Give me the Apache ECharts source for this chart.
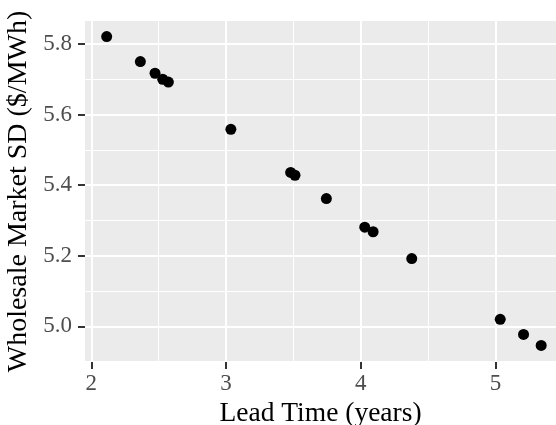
<!DOCTYPE html>
<html>
<head>
<meta charset="utf-8">
<script src="https://cdn.jsdelivr.net/npm/echarts@6/dist/echarts.min.js"></script>
<style>html,body{margin:0;padding:0;background:#fff}#c{width:556px;height:425px}</style>
</head>
<body>
<div id="c"></div>
<script>
var leadTime = [2.114, 2.364, 2.473, 2.530, 2.572, 3.036, 3.480, 3.512, 3.745, 4.030, 4.092, 4.379, 5.036, 5.209, 5.340];
var marketSD = [5.821, 5.750, 5.717, 5.700, 5.692, 5.558, 5.436, 5.428, 5.362, 5.281, 5.268, 5.192, 5.020, 4.977, 4.946];
var xTicks = [2, 3, 4, 5];
var xMinor = [2.5, 3.5, 4.5];
var yTicks = [5.0, 5.2, 5.4, 5.6, 5.8];
var yMinor = [4.9, 5.1, 5.3, 5.5, 5.7];

var font = '"Liberation Serif", "Times New Roman", serif';
var points = leadTime.map(function (x, i) { return [x, marketSD[i]]; });

function vLines(vals, w) {
  return vals.map(function (v) { return { xAxis: v, lineStyle: { color: '#fff', width: w, type: 'solid' } }; });
}
function hLines(vals, w) {
  return vals.map(function (v) { return { yAxis: v, lineStyle: { color: '#fff', width: w, type: 'solid' } }; });
}

var chart = echarts.init(document.getElementById('c'), null, { renderer: 'canvas' });
chart.setOption({
  animation: false,
  grid: { left: 85, right: 0, top: 21, bottom: 63, show: true, backgroundColor: '#EBEBEB', borderWidth: 0,
    containLabel: false, outerBoundsMode: 'none' },
  xAxis: {
    type: 'value', min: 1.953, max: 5.45,
    name: 'Lead Time (years)', nameLocation: 'middle', nameGap: 34,
    nameTextStyle: { fontFamily: font, fontSize: 27.5, color: '#000' },
    axisLine: { show: false },
    splitLine: { show: false },
    axisTick: { show: true, customValues: xTicks, length: 7, lineStyle: { color: '#333', width: 2 } },
    axisLabel: { customValues: xTicks, fontFamily: font, fontSize: 23, color: '#4D4D4D', margin: 10,
      formatter: function (v) { return String(v); } }
  },
  yAxis: {
    type: 'value', min: 4.899, max: 5.865,
    name: 'Wholesale Market SD ($/MWh)', nameLocation: 'middle', nameGap: 47, nameRotate: 90,
    nameTextStyle: { fontFamily: font, fontSize: 28, color: '#000' },
    axisLine: { show: false },
    splitLine: { show: false },
    axisTick: { show: true, customValues: yTicks, length: 7, lineStyle: { color: '#333', width: 2 } },
    axisLabel: { customValues: yTicks, fontFamily: font, fontSize: 23, color: '#4D4D4D', margin: 13,
      formatter: function (v) { return v.toFixed(1); } }
  },
  series: [
    {
      type: 'scatter', data: [], z: 1, silent: true,
      markLine: {
        silent: true, symbol: 'none', label: { show: false }, animation: false,
        data: vLines(xMinor, 1).concat(hLines(yMinor, 1), vLines(xTicks, 2), hLines(yTicks, 2))
      }
    },
    {
      type: 'scatter', data: points, z: 5, symbol: 'circle', symbolSize: 11,
      itemStyle: { color: '#000', opacity: 1 }
    }
  ]
});
</script>
</body>
</html>
